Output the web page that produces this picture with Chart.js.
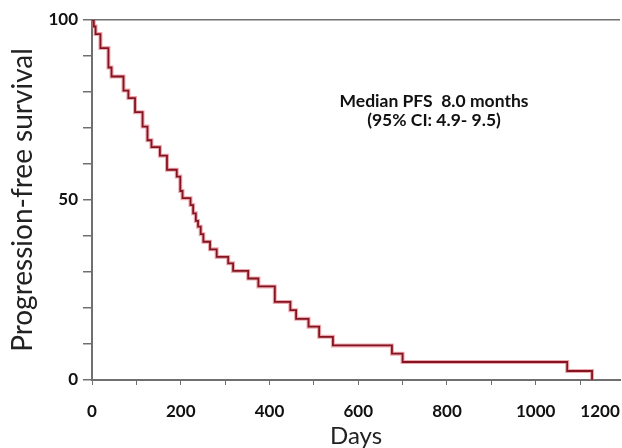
<!DOCTYPE html>
<html>
<head>
<meta charset="utf-8">
<script src="https://cdn.jsdelivr.net/npm/chart.js@4"></script>
<style>
  body { margin: 0; background: #fff; }
  #wrap { position: relative; width: 622px; height: 448px; }
  #note {
    position: absolute; left: 324px; top: 91px; width: 220px;
    text-align: center; font: bold 17.5px Lato, sans-serif; line-height: 19px;
    white-space: pre; color: #111;
  }
</style>
</head>
<body>
<div id="wrap">
  <canvas id="km" width="622" height="448"></canvas>
  <div id="note">Median PFS  8.0 months
(95% CI: 4.9- 9.5)</div>
</div>
<script>
// Kaplan-Meier steps (days, % progression-free)
const days = [0, 4, 8, 19, 37, 44, 71, 82, 97, 114, 125, 134, 153, 169, 191, 199, 204,
  222, 228, 234, 239, 245, 251, 266, 281, 307, 318, 352, 375, 412, 447, 460, 488, 512,
  543, 676, 700, 1071, 1127];
const survival = [100, 98.2, 96.1, 92.2, 86.8, 84.3, 80.4, 78.3, 74.4, 70.4, 66.6, 64.7,
  62.3, 58.4, 56.5, 52.5, 50.5, 48.6, 46.3, 44.2, 42.6, 40.5, 38.4, 36.3, 34.2, 32.4,
  30.3, 28.2, 26.0, 21.7, 19.4, 17.0, 14.8, 12.0, 9.6, 7.3, 5.0, 2.5, 0];

// x tick marks every 100 days; the "1200" label sits left of where 1200 would be
const xTicks = [0, 100, 200, 300, 400, 500, 600, 700, 800, 900, 1000, 1100, 1145];
const xTickLabels = ['0', '', '200', '', '400', '', '600', '', '800', '', '1000', '', '1200'];
const yLabels = [0, 50, 100];

const axisGrey = '#707070';
const points = days.map((d, i) => ({ x: d, y: survival[i] }));

new Chart(document.getElementById('km'), {
  type: 'line',
  data: {
    datasets: [
      { data: points, stepped: 'before', borderColor: '#841420', borderWidth: 1.8, pointRadius: 0 },
      { data: points, stepped: 'before', borderColor: 'rgba(225,110,122,0.6)', borderWidth: 4, pointRadius: 0 }
    ]
  },
  options: {
    responsive: false,
    animation: false,
    layout: { padding: { top: 20, right: 2 } },
    plugins: { legend: { display: false }, tooltip: { enabled: false } },
    scales: {
      x: {
        type: 'linear', min: 0, max: 1190,
        afterFit: s => { s.height = 68; s.paddingLeft = 0; s.paddingRight = 0; },
        afterBuildTicks: s => { s.ticks = xTicks.map(v => ({ value: v })); },
        grid: {
          drawOnChartArea: false, tickLength: 5,
          tickColor: c => c.index === xTicks.length - 1 ? 'transparent' : axisGrey
        },
        border: { color: axisGrey, width: 2 },
        ticks: {
          autoSkip: false, maxRotation: 0, padding: 16, color: '#111',
          font: { family: 'Lato', size: 17, weight: 'bold' },
          callback: (v, i) => xTickLabels[i]
        },
        title: {
          display: true, text: 'Days', color: '#222', padding: 0,
          font: { family: 'Lato', size: 24, lineHeight: 1 }
        }
      },
      y: {
        min: 0, max: 100,
        afterFit: s => { s.width = 92; },
        grid: {
          tickLength: 9, tickColor: axisGrey,
          color: c => c.tick.value === 100 ? axisGrey : 'transparent',
          lineWidth: 1.5
        },
        border: { color: axisGrey, width: 2 },
        ticks: {
          stepSize: 10, padding: 5, color: '#111',
          font: { family: 'Lato', size: 17, weight: 'bold' },
          callback: v => yLabels.includes(v) ? String(v) : ''
        },
        title: {
          display: true, text: 'Progression-free survival', color: '#222',
          padding: { top: 6 },
          font: { family: 'Lato', size: 28, lineHeight: 1.2 }
        }
      }
    }
  }
});
</script>
</body>
</html>
